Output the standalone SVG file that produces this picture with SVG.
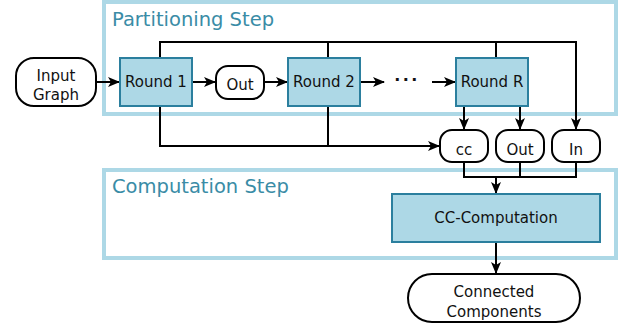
<svg xmlns="http://www.w3.org/2000/svg" width="622" height="330" viewBox="0 0 622 330">
  <defs>
    <marker id="arrow" viewBox="0 0 12 10" refX="11" refY="5" markerWidth="12" markerHeight="10" markerUnits="userSpaceOnUse" orient="auto">
      <path d="M0,0 L12,5 L0,10 L3,5 z" fill="#000"/>
    </marker>
  </defs>
  <style>
    .stage { fill: none; stroke: #add8e6; stroke-width: 4; }
    .stage-title { font-family: "DejaVu Sans", sans-serif; font-size: 19.5px; fill: #3a8ca6; }
    .proc { fill: #add8e6; stroke: #2b7f9e; stroke-width: 2; }
    .term { fill: #fff; stroke: #000; stroke-width: 2; }
    .label { font-family: "DejaVu Sans", sans-serif; font-size: 15px; fill: #111; text-anchor: middle; }
    .dots { font-family: "DejaVu Sans", sans-serif; font-size: 16px; font-weight: bold; letter-spacing: 2.5px; fill: #111; text-anchor: middle; }
    .wire { fill: none; stroke: #000; stroke-width: 2; }
    .arrow { marker-end: url(#arrow); }
  </style>

  <!-- stage frames -->
  <g id="partitioning-step">
    <rect class="stage" x="104" y="2" width="512" height="112"/>
    <text class="stage-title" x="112" y="26">Partitioning Step</text>
  </g>
  <g id="computation-step">
    <rect class="stage" x="104" y="170" width="512" height="88"/>
    <text class="stage-title" x="112" y="193">Computation Step</text>
  </g>

  <!-- connectors -->
  <g id="connectors">
    <line class="wire arrow" x1="96" y1="82" x2="119" y2="82"/>
    <line class="wire arrow" x1="192" y1="82" x2="215" y2="82"/>
    <line class="wire arrow" x1="264" y1="82" x2="287" y2="82"/>
    <line class="wire arrow" x1="360" y1="82" x2="384" y2="82"/>
    <line class="wire arrow" x1="432" y1="82" x2="455" y2="82"/>
    <!-- upper bus into "In" -->
    <polyline class="wire arrow" points="160,58 160,42 576,42 576,129"/>
    <line class="wire" x1="328" y1="42" x2="328" y2="58"/>
    <line class="wire" x1="496" y1="42" x2="496" y2="58"/>
    <!-- lower bus into "cc" -->
    <polyline class="wire arrow" points="160,106 160,146 439,146"/>
    <line class="wire" x1="328" y1="106" x2="328" y2="146"/>
    <!-- Round R outputs -->
    <line class="wire arrow" x1="464" y1="106" x2="464" y2="129"/>
    <line class="wire arrow" x1="520" y1="106" x2="520" y2="129"/>
    <!-- merge into CC-Computation -->
    <polyline class="wire" points="464,162 464,177 576,177 576,162"/>
    <line class="wire" x1="520" y1="162" x2="520" y2="177"/>
    <line class="wire arrow" x1="496" y1="177" x2="496" y2="193"/>
    <line class="wire arrow" x1="496" y1="242" x2="496" y2="273"/>
  </g>

  <!-- nodes -->
  <g id="input-graph">
    <rect class="term" x="16" y="58" width="80" height="48" rx="18"/>
    <text class="label" x="56" y="81">Input</text>
    <text class="label" x="56" y="100">Graph</text>
  </g>
  <g id="round-1">
    <rect class="proc" x="120" y="58" width="72" height="48"/>
    <text class="label" x="156" y="87">Round 1</text>
  </g>
  <g id="out-1">
    <rect class="term" x="216" y="66" width="48" height="33" rx="12"/>
    <text class="label" x="240" y="90">Out</text>
  </g>
  <g id="round-2">
    <rect class="proc" x="288" y="58" width="72" height="48"/>
    <text class="label" x="324" y="87">Round 2</text>
  </g>
  <g id="ellipsis">
    <text class="dots" x="407" y="85">···</text>
  </g>
  <g id="round-r">
    <rect class="proc" x="456" y="58" width="72" height="48"/>
    <text class="label" x="492" y="87">Round R</text>
  </g>
  <g id="cc">
    <rect class="term" x="440" y="130" width="48" height="32" rx="12"/>
    <text class="label" x="464" y="155">cc</text>
  </g>
  <g id="out-r">
    <rect class="term" x="496" y="130" width="48" height="32" rx="12"/>
    <text class="label" x="520" y="155">Out</text>
  </g>
  <g id="in">
    <rect class="term" x="552" y="130" width="48" height="32" rx="12"/>
    <text class="label" x="576" y="155">In</text>
  </g>
  <g id="cc-computation">
    <rect class="proc" x="392" y="194" width="208" height="48"/>
    <text class="label" x="496" y="223">CC-Computation</text>
  </g>
  <g id="connected-components">
    <rect class="term" x="408" y="274" width="172" height="48" rx="24"/>
    <text class="label" x="494" y="297">Connected</text>
    <text class="label" x="494" y="317">Components</text>
  </g>
</svg>
